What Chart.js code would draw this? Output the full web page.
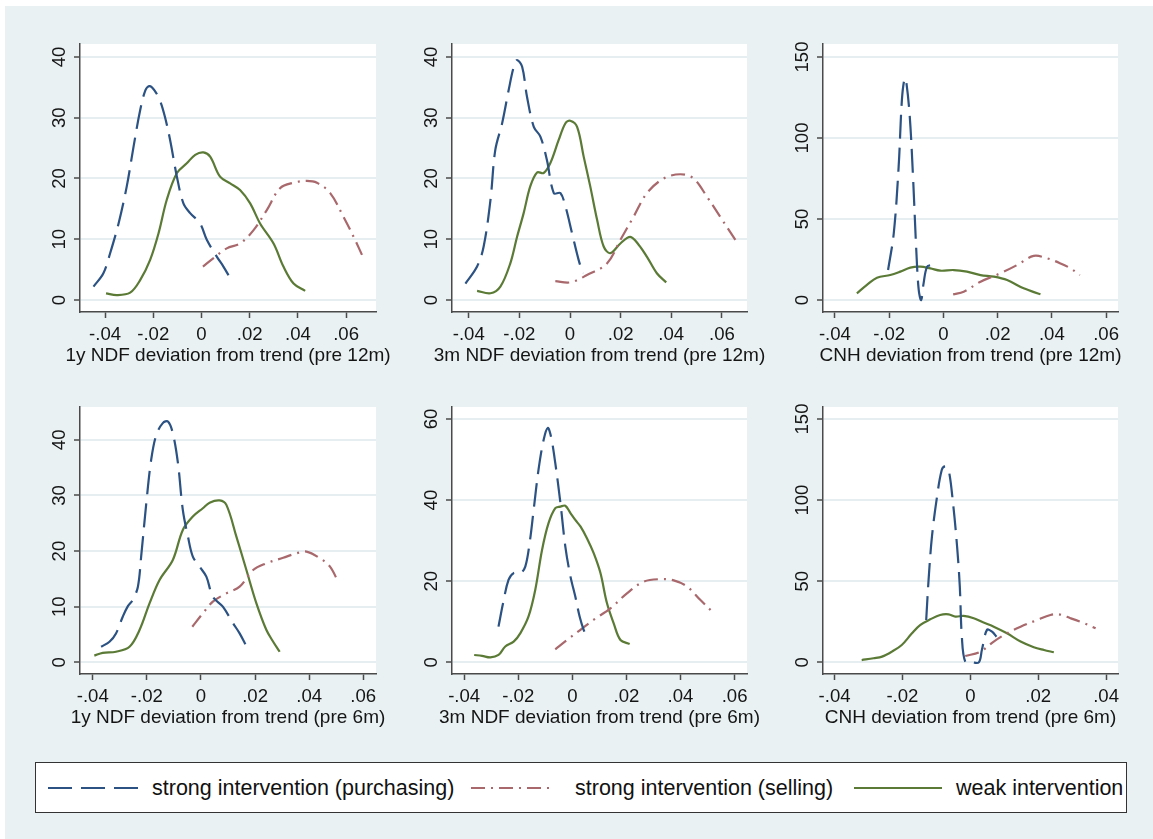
<!DOCTYPE html>
<html>
<head>
<meta charset="utf-8">
<script src="https://cdn.jsdelivr.net/npm/chart.js@4.4.1/dist/chart.umd.min.js"></script>
<style>
  html, body { margin: 0; padding: 0; background: #fff; }
  #bg { position: absolute; left: 5px; top: 6px; width: 1148px; height: 833px; background: #e9f1f3; }
  canvas.panel { position: absolute; }
  #legend { position: absolute; left: 35px; top: 762px; width: 1090px; height: 49px;
            background: #fff; border: 1.5px solid #333; }
  #legend svg { position: absolute; left: 0; top: 0; }
  #legend span { position: absolute; top: 13px; font: 21.5px "Liberation Sans", Arial, sans-serif; color: #111; white-space: nowrap; }
</style>
</head>
<body>
<div id="bg"></div>
<div id="legend"></div>
<script>
// density curves, [deviation, density]
var buy1 = [[-0.0448,2.2],[-0.0407,4.4],[-0.0379,7.7],[-0.0344,12.6],[-0.031,18.7],[-0.0282,25.2],[-0.0254,31.3],[-0.0232,34.6],[-0.0215,35.2],[-0.0195,34.5],[-0.0172,32.8],[-0.0152,30.2],[-0.013,26.3],[-0.0102,20.3],[-0.0075,15.9],[-0.0047,14.3],[-0.0006,12.6],[0.0022,9.9],[0.0064,7.1],[0.0091,5.5],[0.0119,3.6]];
var sell1 = [[0.0006,5.5],[0.005,6.9],[0.0105,8.5],[0.016,9.3],[0.0216,11.5],[0.0271,14.8],[0.0326,18.4],[0.0382,19.3],[0.0437,19.6],[0.0479,19.3],[0.0534,17.6],[0.0589,13.7],[0.0631,10.4],[0.0672,6.9]];
var weak1 = [[-0.0396,1.1],[-0.0351,0.8],[-0.0296,1.2],[-0.0254,3.3],[-0.0213,6.6],[-0.0178,11.0],[-0.0144,16.5],[-0.0102,20.9],[-0.0061,22.5],[-0.0026,23.9],[0.0008,24.3],[0.0036,23.6],[0.0077,20.3],[0.0119,19.2],[0.016,18.1],[0.0202,15.9],[0.0243,12.6],[0.0299,9.3],[0.034,5.5],[0.0382,2.7],[0.043,1.5]];

var buy2 = [[-0.0413,2.7],[-0.0367,5.5],[-0.0341,8.8],[-0.0314,16.5],[-0.0295,24.7],[-0.0268,29.1],[-0.0242,34.6],[-0.0222,38.4],[-0.0209,39.5],[-0.0189,38.4],[-0.017,33.5],[-0.0143,28.5],[-0.0117,26.9],[-0.0091,23.0],[-0.0064,17.6],[-0.0038,17.6],[-0.0018,15.4],[0.0008,11.0],[0.0034,6.6],[0.0051,4.4]];
var sell2 = [[-0.0058,3.1],[0.0001,2.9],[0.0067,4.1],[0.0146,6.0],[0.0199,9.9],[0.0251,13.7],[0.0304,17.6],[0.037,20.0],[0.0436,20.7],[0.0488,20.0],[0.0541,17.0],[0.0593,13.7],[0.0653,9.9]];
var weak2 = [[-0.0367,1.5],[-0.0314,1.1],[-0.0275,2.2],[-0.0236,6.0],[-0.0209,10.4],[-0.0183,14.3],[-0.0157,18.7],[-0.013,21.0],[-0.0104,20.9],[-0.0078,22.5],[-0.0045,26.3],[-0.0018,29.1],[0.0001,29.5],[0.0028,28.5],[0.0054,23.6],[0.008,18.7],[0.0107,13.2],[0.0133,8.8],[0.0159,7.7],[0.0199,9.3],[0.0238,10.4],[0.0271,9.1],[0.0304,7.1],[0.0343,4.4],[0.038,2.9]];

var buy3 = [[-0.0204,18.5],[-0.0183,41.2],[-0.0165,82.3],[-0.0153,123.5],[-0.0143,136.8],[-0.0137,134.8],[-0.0124,113.2],[-0.0112,76.1],[-0.01,30.9],[-0.0091,6.2],[-0.0082,0],[-0.0073,10.3],[-0.006,20.6],[-0.0042,21.6]];
var sell3 = [[0.0036,3.5],[0.0075,5.1],[0.0137,11.3],[0.021,16.5],[0.0272,21.6],[0.0333,27.2],[0.0383,25.7],[0.0432,22.6],[0.0469,19.5],[0.0503,15.4]];
var weak3 = [[-0.0319,4.1],[-0.0282,9.3],[-0.0245,13.8],[-0.0196,15.4],[-0.0159,17.5],[-0.0122,20.0],[-0.0085,20.6],[-0.0048,19.5],[-0.0011,18.1],[0.0038,18.5],[0.0087,17.5],[0.0137,15.4],[0.0186,14.4],[0.0235,12.3],[0.0296,7.2],[0.0358,3.5]];

var buy4 = [[-0.0369,2.8],[-0.0338,3.7],[-0.0314,5.2],[-0.0289,8.2],[-0.027,10.1],[-0.0252,11.2],[-0.0233,13.6],[-0.0221,19.0],[-0.0202,28.6],[-0.0184,36.4],[-0.0165,40.9],[-0.0141,43.0],[-0.0122,43.3],[-0.0104,41.2],[-0.0085,35.8],[-0.0067,27.4],[-0.0048,22.6],[-0.003,19.0],[-0.0005,17.2],[0.002,15.4],[0.0044,11.8],[0.0081,10.0],[0.0119,7.0],[0.0143,5.2],[0.0168,2.9]];
var sell4 = [[-0.0032,6.4],[0.0007,8.8],[0.0044,10.9],[0.0094,12.4],[0.0143,13.6],[0.0193,16.6],[0.0242,17.8],[0.0304,18.8],[0.0353,19.6],[0.039,19.9],[0.044,18.7],[0.0477,17.2],[0.0507,14.5]];
var weak4 = [[-0.0394,1.2],[-0.0363,1.7],[-0.0314,1.9],[-0.0264,2.8],[-0.0227,5.8],[-0.019,10.6],[-0.0153,14.8],[-0.0104,18.4],[-0.0067,23.8],[-0.003,26.2],[0.0007,27.7],[0.0032,28.7],[0.0069,29.1],[0.0094,28.3],[0.0131,22.6],[0.0168,16.6],[0.0205,10.6],[0.0242,5.8],[0.0267,3.7],[0.0291,1.9]];

var buy5 = [[-0.0273,8.8],[-0.0256,14.6],[-0.0236,20.3],[-0.0217,22.0],[-0.0192,22.0],[-0.0174,23.6],[-0.0158,29.4],[-0.0143,37.6],[-0.0125,47.5],[-0.0106,54.9],[-0.0091,57.8],[-0.0079,55.7],[-0.0063,49.1],[-0.0044,39.3],[-0.0026,28.6],[-0.0007,21.2],[0.0011,16.2],[0.0027,11.3],[0.0042,8.0],[0.0057,5.9]];
var sell5 = [[-0.0063,3.2],[-0.002,5.5],[0.003,8.0],[0.0079,10.5],[0.0141,13.3],[0.0202,17.0],[0.0264,19.9],[0.0326,20.5],[0.0375,20.2],[0.0424,18.7],[0.0473,15.4],[0.0523,12.1]];
var weak5 = [[-0.0363,1.8],[-0.0334,1.6],[-0.0303,1.2],[-0.0273,1.8],[-0.0248,3.9],[-0.0217,5.1],[-0.0192,7.2],[-0.0162,11.3],[-0.0137,17.9],[-0.0112,27.7],[-0.0088,34.3],[-0.0063,38.0],[-0.0044,38.4],[-0.0026,38.6],[-0.0007,36.8],[0.0011,35.1],[0.003,33.5],[0.0054,30.6],[0.0079,26.9],[0.0104,22.0],[0.0128,14.6],[0.0153,9.6],[0.0178,5.5],[0.0212,4.5]];

var buy6 = [[-0.013,26.1],[-0.0123,50.8],[-0.0113,77.6],[-0.0098,102.3],[-0.0084,118.7],[-0.0074,120.8],[-0.0064,118.7],[-0.0051,98.1],[-0.0039,71.4],[-0.0031,46.7],[-0.0025,15.8],[-0.0015,0.4],[0.0005,0],[0.0025,0],[0.0034,7.6],[0.0049,20.0],[0.0064,18.9],[0.0077,15.8]];
var sell6 = [[-0.0015,3.9],[0.003,6.6],[0.0069,12.8],[0.0108,17.9],[0.0148,22.0],[0.0197,26.1],[0.0236,29.2],[0.0261,29.6],[0.0295,27.2],[0.0335,24.1],[0.0369,21.0]];
var weak6 = [[-0.032,1.4],[-0.0285,2.5],[-0.026,3.5],[-0.0231,6.6],[-0.0202,10.7],[-0.0172,17.9],[-0.0148,23.0],[-0.0118,26.5],[-0.0089,29.2],[-0.0064,29.6],[-0.0044,28.2],[-0.002,28.6],[0.001,27.2],[0.0039,24.5],[0.0069,22.0],[0.0108,17.9],[0.0148,12.8],[0.0187,9.3],[0.0217,7.6],[0.0246,6.2]];

var xTicksWide = [-0.04, -0.02, 0, 0.02, 0.04, 0.06];
var xTicksNarrow = [-0.04, -0.02, 0, 0.02, 0.04];
var yTicks40 = [0, 10, 20, 30, 40];
var yTicks60 = [0, 20, 40, 60];
var yTicks150 = [0, 50, 100, 150];

var seriesNames = ['strong intervention (purchasing)', 'strong intervention (selling)', 'weak intervention'];
var axisTitles = [
  '1y NDF deviation from trend (pre 12m)', '3m NDF deviation from trend (pre 12m)', 'CNH deviation from trend (pre 12m)',
  '1y NDF deviation from trend (pre 6m)', '3m NDF deviation from trend (pre 6m)', 'CNH deviation from trend (pre 6m)'
];

var colors = ['#2b5282', '#a8686c', '#5a7a35'];
var dashes = [[24, 9], [14, 6, 2, 6], []];

var FONT = '"Liberation Sans", Arial, Helvetica, sans-serif';
Chart.defaults.font.family = FONT;

var colLeft = [80, 452, 823], colWidth = [296, 295, 295];
var rowTop = [44, 407], rowHeight = [268, 267];
var AXW = 80, PADT = 12, PADR = 40, AXH = 62;
var TICK_FS = 18.6, TITLE_FS = 19;
var TEXT_COLOR = '#151515';

var panels = [
  { buy: buy1, sell: sell1, weak: weak1, xmin: -0.0504, xmax: 0.0724, ymin: -1.98, ymax: 42.14, xt: xTicksWide, yt: yTicks40 },
  { buy: buy2, sell: sell2, weak: weak2, xmin: -0.0466, xmax: 0.0699, ymin: -1.98, ymax: 42.14, xt: xTicksWide, yt: yTicks40 },
  { buy: buy3, sell: sell3, weak: weak3, xmin: -0.0444, xmax: 0.0644, ymin: -7.4, ymax: 158, xt: xTicksWide, yt: yTicks150 },
  { buy: buy4, sell: sell4, weak: weak4, xmin: -0.0447, xmax: 0.0647, ymin: -2.1, ymax: 45.9, xt: xTicksWide, yt: yTicks40 },
  { buy: buy5, sell: sell5, weak: weak5, xmin: -0.0445, xmax: 0.0646, ymin: -2.89, ymax: 62.96, xt: xTicksWide, yt: yTicks60 },
  { buy: buy6, sell: sell6, weak: weak6, xmin: -0.0434, xmax: 0.0435, ymin: -7.2, ymax: 157.4, xt: xTicksNarrow, yt: yTicks150 }
];

// stata style: -.04, .02, 0
function fmt(v) {
  if (Math.abs(v) < 1e-9) return '0';
  var s = String(+v.toFixed(4));
  return s.replace(/^(-?)0\./, '$1.');
}

function toPoints(pairs) {
  return pairs.map(function(p) { return { x: p[0], y: p[1] }; });
}

var plotBackground = {
  id: 'plotBackground',
  beforeDraw: function(chart) {
    var a = chart.chartArea, ctx = chart.ctx;
    ctx.save();
    ctx.fillStyle = '#fff';
    ctx.fillRect(a.left, a.top, a.right - a.left, a.bottom - a.top);
    ctx.restore();
  }
};

// axis text drawn by hand: chart.js squeezes the wide titles to the plot width,
// and the y labels need to be turned 90 degrees like in stata
var axisText = {
  id: 'axisText',
  afterDraw: function(chart, args, opts) {
    var x = chart.scales.x, y = chart.scales.y, ctx = chart.ctx;
    ctx.save();
    ctx.fillStyle = TEXT_COLOR;
    ctx.textAlign = 'center';
    ctx.textBaseline = 'alphabetic';
    ctx.font = TICK_FS + 'px ' + FONT;
    y.ticks.forEach(function(t) {
      var py = y.getPixelForValue(t.value);
      ctx.save();
      ctx.translate(y.right - 22 + 0.358 * TICK_FS, py);
      ctx.rotate(-Math.PI / 2);
      ctx.fillText(fmt(t.value), 0, 0);
      ctx.restore();
    });
    x.ticks.forEach(function(t) {
      ctx.fillText(fmt(t.value), x.getPixelForValue(t.value), x.top + 21.5 + 0.358 * TICK_FS);
    });
    ctx.font = TITLE_FS + 'px ' + FONT;
    ctx.fillText(opts.title, (x.left + x.right) / 2, x.top + 48.5);
    ctx.restore();
  }
};

function makeDataset(i, pairs) {
  return {
    label: seriesNames[i],
    data: toPoints(pairs),
    showLine: true,
    borderColor: colors[i],
    borderWidth: 2.2,
    borderDash: dashes[i],
    pointRadius: 0,
    tension: 0.35,
    fill: false
  };
}

panels.forEach(function(p, idx) {
  var c = idx % 3, r = Math.floor(idx / 3);
  var canvas = document.createElement('canvas');
  canvas.className = 'panel';
  var w = colWidth[c] + AXW + PADR, h = rowHeight[r] + PADT + AXH;
  canvas.width = w; canvas.height = h;
  canvas.style.left = (colLeft[c] - AXW) + 'px';
  canvas.style.top = (rowTop[r] - PADT) + 'px';
  canvas.style.width = w + 'px';
  canvas.style.height = h + 'px';
  document.body.appendChild(canvas);

  new Chart(canvas.getContext('2d'), {
    type: 'scatter',
    data: {
      datasets: [makeDataset(0, p.buy), makeDataset(1, p.sell), makeDataset(2, p.weak)]
    },
    options: {
      responsive: false,
      animation: false,
      layout: { padding: { top: PADT, right: PADR, left: 0, bottom: 0 } },
      plugins: {
        legend: { display: false },
        tooltip: { enabled: false },
        axisText: { title: axisTitles[idx] }
      },
      scales: {
        x: {
          type: 'linear',
          min: p.xmin,
          max: p.xmax,
          afterBuildTicks: function(s) { s.ticks = p.xt.map(function(v) { return { value: v }; }); },
          afterFit: function(s) { s.height = AXH; s.paddingLeft = 0; s.paddingRight = 0; },
          grid: { drawOnChartArea: false, drawTicks: true, tickLength: 6, tickColor: '#4a4a4a', tickWidth: 1.5 },
          border: { color: '#4a4a4a', width: 1.5 },
          ticks: { display: false }
        },
        y: {
          type: 'linear',
          min: p.ymin,
          max: p.ymax,
          afterBuildTicks: function(s) { s.ticks = p.yt.map(function(v) { return { value: v }; }); },
          afterFit: function(s) { s.width = AXW; s.paddingTop = 0; s.paddingBottom = 0; },
          grid: { color: '#e6eef1', lineWidth: 2, drawTicks: true, tickLength: 6, tickColor: '#4a4a4a', tickWidth: 1.5 },
          border: { color: '#4a4a4a', width: 1.5 },
          ticks: { display: false }
        }
      }
    },
    plugins: [plotBackground, axisText]
  });
});

// legend across the bottom
var legend = document.getElementById('legend');
var sampleX = [[12, 102], [435, 516], [818, 906]];
var textX = [116, 539, 920];
var svgNS = 'http://www.w3.org/2000/svg';
var svg = document.createElementNS(svgNS, 'svg');
svg.setAttribute('width', '1090');
svg.setAttribute('height', '49');
seriesNames.forEach(function(name, i) {
  var line = document.createElementNS(svgNS, 'line');
  line.setAttribute('x1', sampleX[i][0]);
  line.setAttribute('x2', sampleX[i][1]);
  line.setAttribute('y1', 25);
  line.setAttribute('y2', 25);
  line.setAttribute('stroke', colors[i]);
  line.setAttribute('stroke-width', 2.2);
  if (dashes[i].length) line.setAttribute('stroke-dasharray', dashes[i].join(' '));
  svg.appendChild(line);
  var span = document.createElement('span');
  span.textContent = name;
  span.style.left = textX[i] + 'px';
  legend.appendChild(span);
});
legend.appendChild(svg);
</script>
</body>
</html>
